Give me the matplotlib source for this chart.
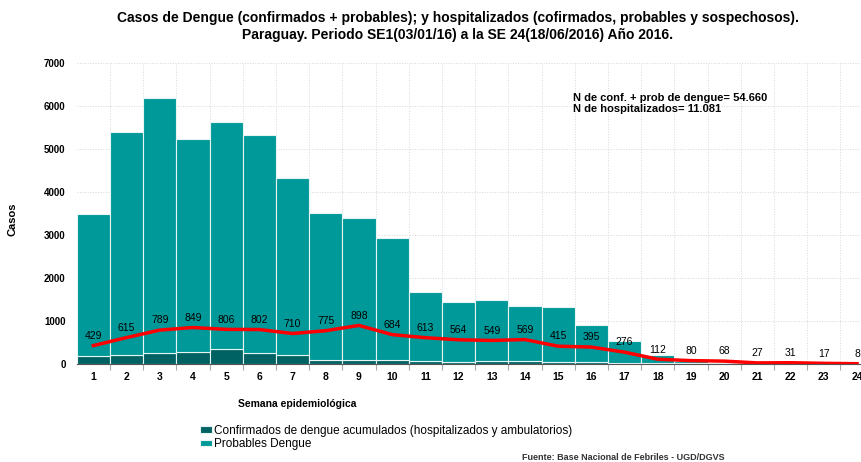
import matplotlib.pyplot as plt
import numpy as np

plt.rcParams['font.family'] = ['Liberation Sans', 'DejaVu Sans']

semanas = list(range(1, 25))
# total cases (confirmed + probable) per week
total = [3490, 5390, 6185, 5230, 5625, 5325, 4325, 3515, 3395, 2930, 1680, 1445,
         1490, 1350, 1325, 905, 540, 205, 70, 20, 10, 8, 5, 3]
confirmados = [195, 200, 255, 280, 340, 250, 200, 105, 105, 85, 60, 50,
               60, 60, 50, 40, 30, 20, 15, 8, 5, 4, 3, 2]
probables = [t - c for t, c in zip(total, confirmados)]
hospitalizados = [429, 615, 789, 849, 806, 802, 710, 775, 898, 684, 613, 564,
                  549, 569, 415, 395, 276, 112, 80, 68, 27, 31, 17, 8]

c_dark = '#006262'
c_teal = '#009999'

fig = plt.figure(figsize=(8.62, 4.62), dpi=100)
ax = fig.add_axes([0.089, 0.212, 0.911, 0.652])

x = np.array(semanas)
ax.bar(x, confirmados, width=1.0, color=c_dark, edgecolor='#e8f4f4', linewidth=0.8, zorder=2,
       label='Confirmados de dengue acumulados (hospitalizados y ambulatorios)')
ax.bar(x, probables, bottom=confirmados, width=1.0, color=c_teal, edgecolor='#e8f4f4',
       linewidth=0.8, zorder=2, label='Probables Dengue')
ax.plot(x, hospitalizados, color='#ff0000', lw=2.5, zorder=3)
for xi, v in zip(x, hospitalizados):
    ax.text(xi, v + 110, str(v), ha='center', va='bottom', fontsize=7.5, zorder=4)

ax.set_xlim(0.5, 24.15)
ax.set_ylim(0, 7000)
ax.set_yticks(range(0, 7001, 1000))
ax.set_xticks(np.arange(1.5, 24, 1))
ax.set_xticklabels([])
ax.set_xticks(x, minor=True)
ax.set_xticklabels([str(s) for s in semanas], minor=True, fontsize=7.5, fontweight='bold')
ax.tick_params(axis='x', which='minor', length=0, pad=6)
ax.tick_params(axis='x', which='major', length=4, color='#aaaaaa')
ax.tick_params(axis='y', length=0, labelsize=7, pad=8)
for lab in ax.get_yticklabels():
    lab.set_fontweight('bold')
ax.grid(True, which='major', color='#d8d8d8', ls=':', lw=0.7, zorder=0)
ax.set_axisbelow(True)
for s in ['top', 'right', 'left']:
    ax.spines[s].set_visible(False)
ax.spines['bottom'].set_color('#555555')

fig.text(0.531, 0.942, 'Casos de Dengue (confirmados + probables); y hospitalizados (cofirmados, probables y sospechosos).\n'
         'Paraguay. Periodo SE1(03/01/16) a la SE 24(18/06/2016) Año 2016.',
         ha='center', va='center', fontsize=10, fontweight='bold', linespacing=1.3)
fig.text(0.014, 0.525, 'Casos', rotation=90, ha='center', va='center', fontsize=8, fontweight='bold')
fig.text(0.276, 0.126, 'Semana epidemiológica', ha='left', va='center', fontsize=7.5, fontweight='bold')
fig.text(0.665, 0.776, 'N de conf. + prob de dengue= 54.660\nN de hospitalizados= 11.081',
         ha='left', va='center', fontsize=8, fontweight='bold', linespacing=1.15)
fig.text(0.605, 0.001, 'Fuente: Base Nacional de Febriles - UGD/DGVS', ha='left', va='bottom',
         fontsize=6.5, fontweight='bold', color='#333333')

fig.legend(loc='upper left', bbox_to_anchor=(0.232, 0.08), frameon=False, fontsize=8.5,
           handlelength=1.0, handleheight=0.5, handletextpad=0.2, labelspacing=0.1,
           borderpad=0, borderaxespad=0)

fig.savefig('out.png', dpi=100)
